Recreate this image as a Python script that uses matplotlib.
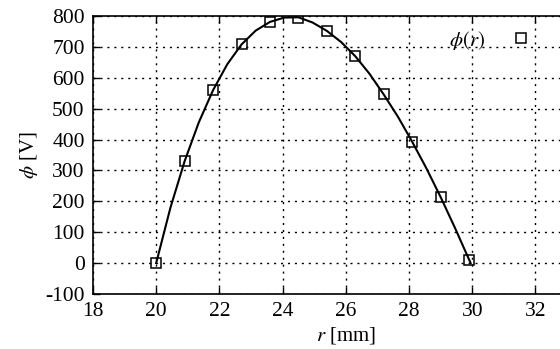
import numpy as np
import matplotlib
matplotlib.use("Agg")
import matplotlib.pyplot as plt

# measured points (squares)
r_meas = [20.0, 20.9, 21.8, 22.7, 23.6, 24.5, 25.4, 26.3, 27.2, 28.1, 29.0, 29.9]
phi_meas = [0, 330, 560, 708, 781, 794, 752, 670, 546, 393, 214, 9]

# solid curve
r_curve = [20.0, 20.45, 20.9, 21.35, 21.8, 22.25, 22.7, 23.15, 23.6, 24.05,
           24.5, 24.95, 25.4, 25.85, 26.3, 26.75, 27.2, 27.65, 28.1, 28.55,
           29.0, 29.45, 29.95]
phi_curve = [0, 179, 330, 456, 560, 644, 708, 753, 781, 795,
             796, 779, 752, 716, 670, 613, 546, 474, 393, 307,
             214, 115, 0]

x_ticks = [18, 20, 22, 24, 26, 28, 30, 32]
y_ticks = [-100, 0, 100, 200, 300, 400, 500, 600, 700, 800]

plt.rcParams["font.family"] = ["Liberation Serif", "DejaVu Serif"]
plt.rcParams["mathtext.fontset"] = "stix"
plt.rcParams["axes.unicode_minus"] = False

fig = plt.figure(figsize=(5.6, 3.49), dpi=100)
# right border sits past the edge of the (cropped) picture
ax = fig.add_axes([0.166, 0.1576, 0.903, 0.7964])

ax.plot(r_curve, phi_curve, color="black", lw=1.5, zorder=3)
ax.plot(r_meas, phi_meas, linestyle="none", marker="s", ms=7, mfc="none",
        mec="black", mew=1.1, zorder=4, label=r"$\phi(r)$")

ax.set_xlim(18, 34)
ax.set_ylim(-100, 800)
ax.set_xticks(x_ticks)
ax.set_yticks(y_ticks)
ax.tick_params(direction="in", length=5, width=1, labelsize=15.5,
               top=True, right=True, pad=6)
ax.grid(True, color="black", linestyle=(0, (1.5, 3.5)), lw=1.0)
for s in ax.spines.values():
    s.set_linewidth(1.2)

ax.set_xlabel(r"$r$ [mm]", fontsize=15, labelpad=3)
ax.set_ylabel(r"$\phi$ [V]", fontsize=15, labelpad=4)

ax.legend(loc="upper left", bbox_to_anchor=(0.679, 1.0), frameon=False,
          fontsize=15, markerfirst=False, handlelength=1.5, handletextpad=1.0,
          borderaxespad=0.2)

fig.savefig("out.png", dpi=100)
